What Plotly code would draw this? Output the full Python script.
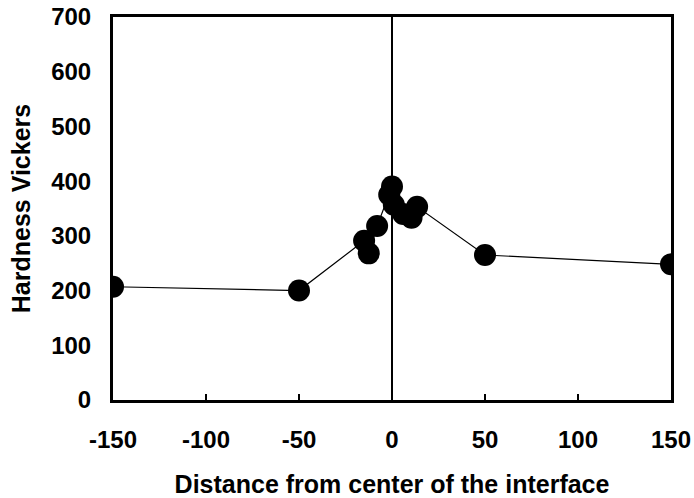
import plotly.graph_objects as go

distance = [-150, -50, -15, -12.5, -8, -1.5, 0, 1, 6, 10.5, 13.5, 50, 150]
hardness = [207, 200, 291, 268, 318, 375, 390, 357, 340, 333, 353, 265, 248]

x_ticks = [-150, -100, -50, 0, 50, 100, 150]
y_ticks = [0, 100, 200, 300, 400, 500, 600, 700]

font_family = "Liberation Sans, Arial, sans-serif"

fig = go.Figure()
fig.add_trace(go.Scatter(
    x=distance, y=hardness, mode="lines+markers",
    line=dict(color="black", width=1.2),
    marker=dict(color="black", size=22),
    showlegend=False,
))

fig.update_layout(
    width=694, height=498,
    margin=dict(l=113, r=23, t=17, b=98),
    paper_bgcolor="white", plot_bgcolor="white",
    font=dict(family=font_family, color="black"),
    xaxis=dict(
        range=[-150, 150], tickvals=x_ticks,
        ticktext=["<b>%d</b>" % v for v in x_ticks],
        automargin=False,
        showgrid=False, zeroline=True, zerolinecolor="black", zerolinewidth=1.5,
        showline=True, linecolor="black", linewidth=3, mirror=True,
        ticks="inside", ticklen=6, tickwidth=1.5, tickcolor="black",
        tickfont=dict(size=24, family=font_family),
        ticklabelstandoff=16,
        title=dict(text="<b>Distance from center of the interface</b>",
                   font=dict(size=25, family=font_family), standoff=26),
    ),
    yaxis=dict(
        range=[0, 700], tickvals=y_ticks,
        ticktext=["<b>%d</b>" % v for v in y_ticks],
        automargin=False,
        showgrid=False, zeroline=False,
        showline=True, linecolor="black", linewidth=3, mirror=True,
        ticks="",
        tickfont=dict(size=24, family=font_family),
        ticklabelstandoff=14,
        title=dict(text="<b>Hardness Vickers</b>",
                   font=dict(size=25, family=font_family), standoff=14),
    ),
)

fig.write_html("out.html")
